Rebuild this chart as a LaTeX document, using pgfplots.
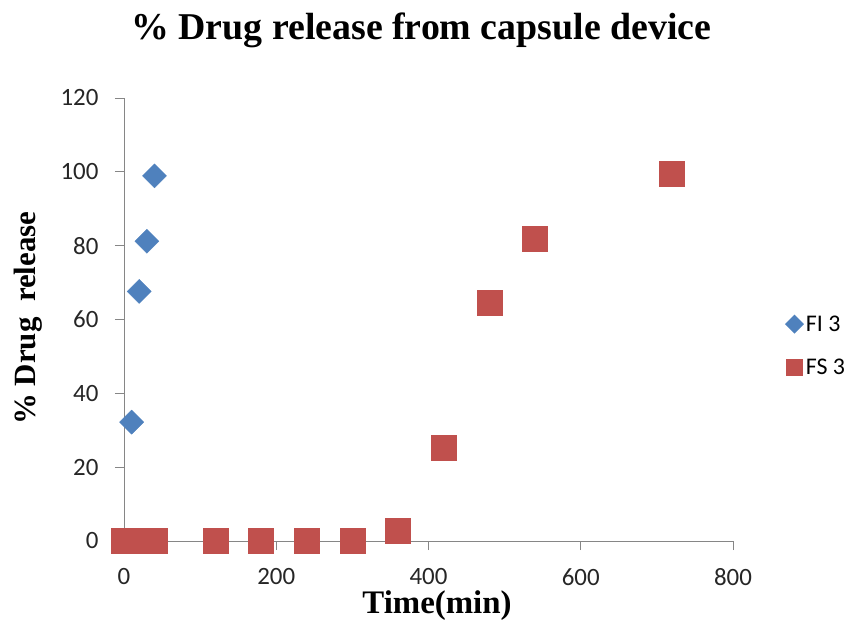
\documentclass[border=0pt]{standalone}
\usepackage{pgfplots}
\pgfplotsset{compat=1.18}
\usepackage{fontspec}
\setmainfont{Carlito}
\newfontfamily\serifb{Liberation Serif}
\definecolor{fiblue}{HTML}{4F81BD}
\definecolor{fsred}{HTML}{C0504D}
\definecolor{axgray}{HTML}{868686}
\begin{document}
\begin{tikzpicture}[x=1bp,y=1bp]
\useasboundingbox (-124bp,-80bp) rectangle (723bp,541bp);
\begin{axis}[
  at={(0,0)}, anchor=south west,
  scale only axis, width=609bp, height=443bp,
  xmin=0, xmax=800, ymin=0, ymax=120,
  xtick={0,200,400,600,800}, ytick={0,20,40,60,80,100,120},
  axis x line=bottom, axis y line=left,
  axis line style={axgray, line width=0.8pt, -},
  tick align=outside, major tick length=9bp,
  tick style={axgray, line width=0.8pt},
  clip=false,
  /pgf/number format/assume math mode=true,
  ticklabel style={font=\fontsize{25}{30}\selectfont, text=black!85},
  xticklabel style={yshift=-15bp},
  yticklabel style={xshift=-13bp},
  xlabel={\serifb\bfseries Time(min)},
  ylabel={\serifb\bfseries \% Drug\ \ release},
  xlabel style={font=\fontsize{33}{38}\selectfont, at={(axis description cs:0.514,0)}, anchor=center, yshift=-65bp},
  ylabel style={font=\fontsize{31}{36}\selectfont, at={(axis description cs:0,0.503)}, anchor=center, yshift=96bp},
  title={\serifb\bfseries \% Drug release from capsule device},
  title style={font=\fontsize{38}{43}\selectfont, at={(axis description cs:0.488,1)}, anchor=center, yshift=62bp},
  legend style={draw=none, fill=none, at={(1.085,0.441)}, anchor=west,
    font=\fontsize{24}{28}\selectfont, row sep=23bp, inner sep=0pt,
    nodes={inner sep=1.5bp}},
  legend cell align=left,
]
\addplot[only marks, mark=square*, mark size=8.5bp, fiblue,
  mark options={rotate=45, fill=fiblue, draw=fiblue},
  legend image code/.code={\path[draw=none,fill=none] (0,-9bp) rectangle (19bp,9bp);
    \fill[draw=none,fill=fiblue] (9bp,9.5bp) -- (18.5bp,0) -- (9bp,-9.5bp) -- (-0.5bp,0) -- cycle;}]
  coordinates {(0,0) (10,32.2) (20,67.6) (30,81.2) (40,98.9)};
\addlegendentry{FI 3}
\addplot[only marks, mark=square*, mark size=12.5bp, fsred,
  mark options={fill=fsred, draw=fsred},
  legend image code/.code={\path[draw=none,fill=none] (0,-9bp) rectangle (19bp,9bp);
    \fill[draw=none,fill=fsred] (0.5bp,-8.5bp) rectangle (17.5bp,8.5bp);}]
  coordinates {(0,0) (10,0) (20,0) (30,0) (40,0) (120,0) (180,0) (240,0) (300,0)
   (360,2.8) (420,25.2) (480,64.5) (540,82.0) (720,99.5)};
\addlegendentry{FS 3}
\end{axis}
\end{tikzpicture}
\end{document}
